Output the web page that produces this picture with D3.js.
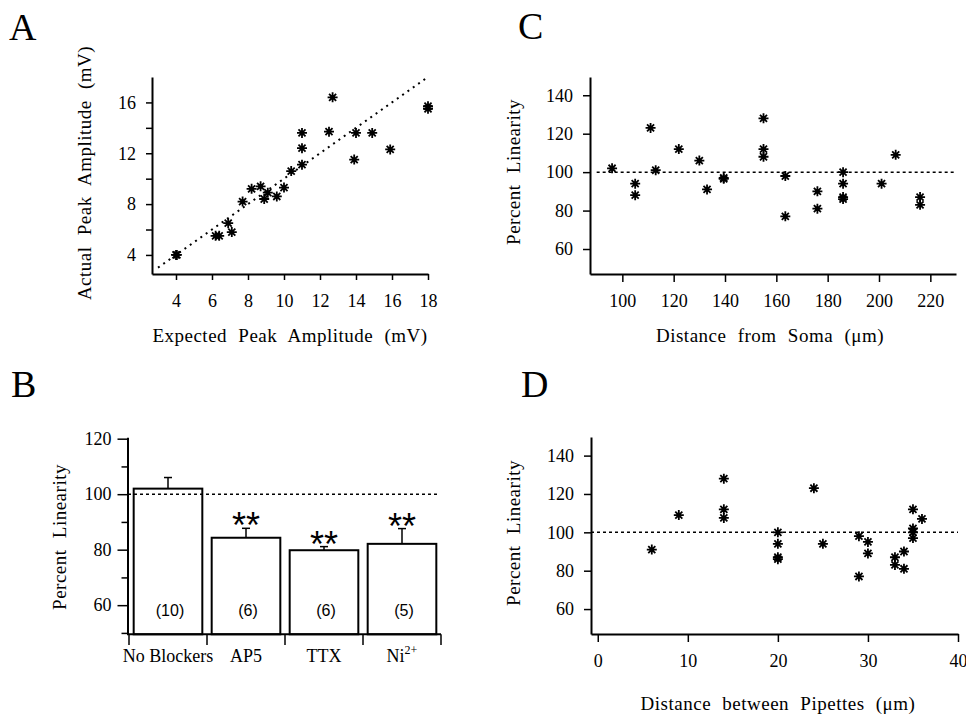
<!DOCTYPE html>
<html>
<head>
<meta charset="utf-8">
<script src="https://cdn.jsdelivr.net/npm/d3@7"></script>
<style>
  html, body { margin: 0; padding: 0; background: #fff; }
  svg { display: block; }
  text { font-family: "Liberation Serif", "Times New Roman", serif; fill: #000; }
  .tick text { font-size: 18px; font-family: "Liberation Serif", serif; }
  .title { font-size: 19px; letter-spacing: 0.5px; word-spacing: 6px; }
  .letter { font-size: 38px; }
  .sans { font-family: "Liberation Sans", Arial, sans-serif; }
</style>
</head>
<body>
<svg id="chart" width="966" height="715"></svg>
<script>
// ---------- DATA ----------
// Panel A
const aExpected = [4.0, 4.05, 6.2, 6.4, 6.9, 7.1, 7.7, 8.2, 8.7, 9.1, 8.9, 9.6, 10.0, 10.4, 11.0, 11.0, 11.0, 12.5, 12.7, 13.9, 14.0, 14.9, 15.9, 18.0, 18.0];
const aActual   = [4.0, 4.0, 5.5, 5.5, 6.5, 5.8, 8.2, 9.2, 9.4, 8.9, 8.4, 8.6, 9.3, 10.6, 11.1, 12.4, 13.6, 13.7, 16.4, 11.5, 13.6, 13.6, 12.3, 15.7, 15.5];
const aXTicks = [4, 6, 8, 10, 12, 14, 16, 18];
const aYTicks = [4, 6, 8, 10, 12, 14, 16];
const aYLabels = [4, 8, 12, 16];
const aIdentity = [3, 18];

// Panel B
const bCategories = ["No Blockers", "AP5", "TTX", "Ni"];
const bSuperscripts = ["", "", "", "2+"];
const bMeans  = [102, 84.3, 79.8, 82.1];
const bErrors = [4, 3.4, 1.3, 5.5];
const bN      = ["(10)", "(6)", "(6)", "(5)"];
const bSignif = ["", "**", "**", "**"];
const bYTicks = [50, 60, 70, 80, 90, 100, 110, 120];
const bYLabels = [60, 80, 100, 120];

// Panel C
const cDistance  = [96, 105, 105, 111, 113, 122, 130, 133, 139.5, 139.5, 155, 155, 155, 163.5, 163.5, 176, 176, 186, 186, 186, 186, 201, 206.5, 216, 216];
const cLinearity = [102, 94, 88, 123, 101, 112, 106, 91, 97, 96.5, 128, 112, 108, 98, 77, 90, 81, 100, 94, 87, 86, 94, 109, 87, 83];
const cXTicks = [100, 120, 140, 160, 180, 200, 220];

// Panel D
const dDistance  = [6, 9, 14, 14, 14, 20, 20, 20, 20, 24, 25, 29, 29, 30, 30, 33, 33, 34, 34, 35, 35, 35, 35, 36];
const dLinearity = [91, 109, 128, 112, 107.5, 100, 94, 87, 86, 123, 94, 98, 77, 95, 89, 87, 83, 90, 81, 112, 102, 100, 97, 107];
const dXTicks = [0, 10, 20, 30, 40];

const pctYTicks = [60, 80, 100, 120, 140];
const reference = 100;

// ---------- DRAW ----------
const svg = d3.select("#chart");

const starType = {
  draw(ctx, size) {
    const r = Math.sqrt(size) / 2;
    for (let k = 0; k < 4; k++) {
      const a = k * Math.PI / 4;
      ctx.moveTo(r * Math.cos(a), r * Math.sin(a));
      ctx.lineTo(-r * Math.cos(a), -r * Math.sin(a));
    }
  }
};
const starPath = d3.symbol().type(starType).size(100)();

function styleAxis(g, w) {
  g.select(".domain").attr("stroke", "#000").attr("stroke-width", w || 2);
  g.selectAll(".tick line").attr("stroke", "#000").attr("stroke-width", 1.5);
}

function stars(g, xs, ys, x, y) {
  g.selectAll("path.star").data(xs).join("path")
    .attr("class", "star")
    .attr("d", starPath)
    .attr("transform", (d, i) => `translate(${x(d)},${y(ys[i])})`)
    .attr("fill", "none").attr("stroke", "#000").attr("stroke-width", 1.8);
  g.selectAll("circle.core").data(xs).join("circle")
    .attr("class", "core")
    .attr("cx", d => x(d)).attr("cy", (d, i) => y(ys[i])).attr("r", 2.2)
    .attr("fill", "#000");
}

// ===== Panel A =====
{
  const x = d3.scaleLinear().domain([2.667, 18]).range([152, 428]);
  const y = d3.scaleLinear().domain([2.5, 18]).range([274, 77]);
  const g = svg.append("g");
  g.append("g").attr("transform", "translate(0,274)")
    .call(d3.axisBottom(x).tickValues(aXTicks).tickSize(6).tickPadding(14).tickSizeOuter(0))
    .call(styleAxis);
  g.append("g").attr("transform", "translate(152,0)")
    .call(d3.axisLeft(y).tickValues(aYTicks).tickSize(6).tickPadding(10).tickSizeOuter(0)
      .tickFormat(d => aYLabels.includes(d) ? d : ""))
    .call(styleAxis);
  g.append("line")
    .attr("x1", x(aIdentity[0])).attr("y1", y(aIdentity[0]))
    .attr("x2", x(aIdentity[1])).attr("y2", y(aIdentity[1]))
    .attr("stroke", "#000").attr("stroke-width", 2).attr("stroke-dasharray", "2,4.5");
  stars(g, aExpected, aActual, x, y);
  g.append("text").attr("class", "title").attr("x", 290).attr("y", 342)
    .attr("text-anchor", "middle").text("Expected Peak Amplitude (mV)");
  g.append("text").attr("class", "title").attr("transform", "translate(91,173) rotate(-90)")
    .attr("text-anchor", "middle").text("Actual Peak Amplitude (mV)");
  g.append("text").attr("class", "letter").attr("x", 9).attr("y", 40).text("A");
}

// ===== Panel B =====
{
  const x = d3.scaleBand().domain(bCategories).range([129, 441]).paddingInner(0.12).paddingOuter(0.06);
  const y = d3.scaleLinear().domain([49.5, 120.5]).range([634.3, 437.3]);
  const g = svg.append("g");
  // bars
  g.selectAll("rect.bar").data(bCategories).join("rect")
    .attr("class", "bar")
    .attr("x", d => x(d)).attr("width", x.bandwidth())
    .attr("y", (d, i) => y(bMeans[i]))
    .attr("height", (d, i) => y(49.5) - y(bMeans[i]))
    .attr("fill", "#fff").attr("stroke", "#000").attr("stroke-width", 2);
  // error bars
  const cx = d => x(d) + x.bandwidth() / 2;
  g.selectAll("line.err").data(bCategories).join("line")
    .attr("class", "err")
    .attr("x1", cx).attr("x2", cx)
    .attr("y1", (d, i) => y(bMeans[i])).attr("y2", (d, i) => y(bMeans[i] + bErrors[i]))
    .attr("stroke", "#000").attr("stroke-width", 1.5);
  g.selectAll("line.cap").data(bCategories).join("line")
    .attr("class", "cap")
    .attr("x1", d => cx(d) - 4).attr("x2", d => cx(d) + 4)
    .attr("y1", (d, i) => y(bMeans[i] + bErrors[i])).attr("y2", (d, i) => y(bMeans[i] + bErrors[i]))
    .attr("stroke", "#000").attr("stroke-width", 1.5);
  // reference line
  g.append("line").attr("x1", 128).attr("x2", 440)
    .attr("y1", y(reference)).attr("y2", y(reference))
    .attr("stroke", "#000").attr("stroke-width", 1.5).attr("stroke-dasharray", "3,3");
  // significance
  g.selectAll("text.sig").data(bCategories).join("text")
    .attr("class", "sig sans")
    .attr("x", cx).attr("y", (d, i) => y(bMeans[i] + bErrors[i]) + 10)
    .attr("text-anchor", "middle").attr("font-size", 36)
    .text((d, i) => bSignif[i]);
  // n labels
  g.selectAll("text.n").data(bCategories).join("text")
    .attr("class", "n sans")
    .attr("x", d => cx(d) + 2).attr("y", 616)
    .attr("text-anchor", "middle").attr("font-size", 16)
    .text((d, i) => bN[i]);
  // y axis
  g.append("g").attr("transform", "translate(127.5,0)")
    .call(d3.axisLeft(y).tickValues(bYTicks).tickSize(10).tickPadding(6).tickSizeOuter(0)
      .tickFormat(d => bYLabels.includes(d) ? d : ""))
    .call(styleAxis)
    .call(a => a.selectAll(".tick line").attr("x2", d => bYLabels.includes(d) ? -10 : -6));
  // x axis line + boundary ticks
  const step = x.step();
  const bounds = bCategories.map(d => x(d) - step * 0.06).concat([x(bCategories[bCategories.length - 1]) + x.bandwidth() + step * 0.06]);
  g.append("line").attr("x1", 127).attr("x2", 441).attr("y1", 634.3).attr("y2", 634.3)
    .attr("stroke", "#000").attr("stroke-width", 2);
  g.selectAll("line.bt").data(bounds).join("line")
    .attr("class", "bt")
    .attr("x1", d => d).attr("x2", d => d).attr("y1", 634.3).attr("y2", 645)
    .attr("stroke", "#000").attr("stroke-width", 1.5);
  const labels = g.selectAll("text.cat").data(bCategories).join("text")
    .attr("class", "cat")
    .attr("x", cx).attr("y", 662).attr("text-anchor", "middle").attr("font-size", 18);
  labels.append("tspan").text(d => d);
  labels.append("tspan").attr("dy", -8).attr("font-size", 12).text((d, i) => bSuperscripts[i]);
  g.append("text").attr("class", "title").attr("transform", "translate(66,537) rotate(-90)")
    .attr("text-anchor", "middle").text("Percent Linearity");
  g.append("text").attr("class", "letter").attr("x", 11).attr("y", 397).text("B");
}

// ===== Panel C =====
{
  const x = d3.scaleLinear().domain([87.4, 230]).range([590, 956]);
  const y = d3.scaleLinear().domain([47, 149.5]).range([274, 77]);
  const g = svg.append("g");
  g.append("g").attr("transform", "translate(0,274)")
    .call(d3.axisBottom(x).tickValues(cXTicks).tickSize(8).tickPadding(12).tickSizeOuter(0))
    .call(styleAxis);
  g.append("g").attr("transform", "translate(590,0)")
    .call(d3.axisLeft(y).tickValues(pctYTicks).tickSize(7).tickPadding(10).tickSizeOuter(0))
    .call(styleAxis);
  g.append("line").attr("x1", x(90)).attr("x2", x(230))
    .attr("y1", y(reference)).attr("y2", y(reference))
    .attr("stroke", "#000").attr("stroke-width", 1.5).attr("stroke-dasharray", "3,3");
  stars(g, cDistance, cLinearity, x, y);
  g.append("text").attr("class", "title").attr("x", 770).attr("y", 342)
    .attr("text-anchor", "middle").text("Distance from Soma (\u03bcm)");
  g.append("text").attr("class", "title").attr("transform", "translate(520,172) rotate(-90)")
    .attr("text-anchor", "middle").text("Percent Linearity");
  g.append("text").attr("class", "letter").attr("x", 518).attr("y", 39).text("C");
}

// ===== Panel D =====
{
  const x = d3.scaleLinear().domain([-0.75, 40]).range([591, 958]);
  const y = d3.scaleLinear().domain([47, 149.7]).range([634, 437]);
  const g = svg.append("g");
  g.append("g").attr("transform", "translate(0,634)")
    .call(d3.axisBottom(x).tickValues(dXTicks).tickSize(8).tickPadding(12).tickSizeOuter(0))
    .call(styleAxis);
  g.append("g").attr("transform", "translate(591,0)")
    .call(d3.axisLeft(y).tickValues(pctYTicks).tickSize(7).tickPadding(10).tickSizeOuter(0))
    .call(styleAxis);
  g.append("line").attr("x1", x(-0.75)).attr("x2", x(40))
    .attr("y1", y(reference)).attr("y2", y(reference))
    .attr("stroke", "#000").attr("stroke-width", 1.5).attr("stroke-dasharray", "3,3");
  stars(g, dDistance, dLinearity, x, y);
  g.append("text").attr("class", "title").attr("x", 778).attr("y", 710)
    .attr("text-anchor", "middle").text("Distance between Pipettes (\u03bcm)");
  g.append("text").attr("class", "title").attr("transform", "translate(520,533) rotate(-90)")
    .attr("text-anchor", "middle").text("Percent Linearity");
  g.append("text").attr("class", "letter").attr("x", 521).attr("y", 397).text("D");
}
</script>
</body>
</html>
